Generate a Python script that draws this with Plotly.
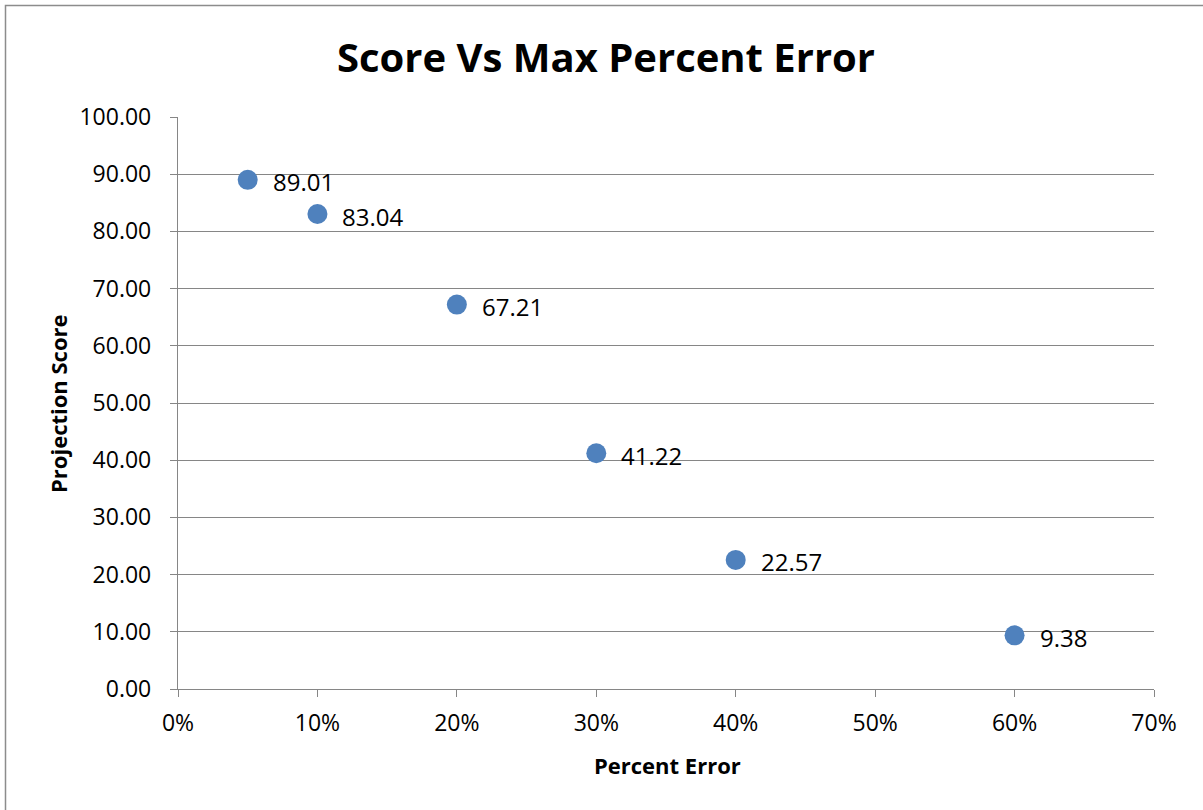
import plotly.graph_objects as go

# Data
percent_error = [0.05, 0.10, 0.20, 0.30, 0.40, 0.60]
projection_score = [89.01, 83.04, 67.21, 41.22, 22.57, 9.38]
point_labels = ["89.01", "83.04", "67.21", "41.22", "22.57", "9.38"]

title_text = "Score Vs Max Percent Error"
x_title = "Percent Error"
y_title = "Projection Score"

FONT = "Open Sans"
GRID = "#868686"

fig = go.Figure()
fig.add_trace(go.Scatter(
    x=percent_error, y=projection_score, mode="markers",
    marker=dict(size=20, color="#4F81BD", line=dict(width=0)),
    hoverinfo="skip", showlegend=False,
))

for xv, yv, lab in zip(percent_error, projection_score, point_labels):
    fig.add_annotation(x=xv, y=yv, xref="x", yref="y", text=lab, showarrow=False,
                       xanchor="left", yanchor="middle", xshift=23, yshift=-2,
                       font=dict(family=FONT, size=24, color="#000000"))

fig.add_annotation(text="<b>" + title_text + "</b>", xref="paper", yref="paper",
                   x=(606 - 178) / 976, y=1 + (117 - 57) / 572, xanchor="center", yanchor="middle",
                   showarrow=False, font=dict(family=FONT, size=40, color="#000000"))
fig.add_annotation(text="<b>" + x_title + "</b>", xref="paper", yref="paper",
                   x=(667 - 178) / 976, y=-(765 - 689) / 572, xanchor="center", yanchor="middle",
                   showarrow=False, font=dict(family=FONT, size=22, color="#000000"))
fig.add_annotation(text="<b>" + y_title + "</b>", xref="paper", yref="paper",
                   x=-(178 - 58) / 976, y=(689 - 404) / 572, xanchor="center", yanchor="middle", textangle=-90,
                   showarrow=False, font=dict(family=FONT, size=22, color="#000000"))

# outer chart border (left and top visible, rest beyond page)
fig.add_shape(type="rect", xref="paper", yref="paper",
              x0=-(178 - 5.5) / 976, x1=1 + 100 / 976,
              y0=-200 / 572, y1=1 + (117 - 5.5) / 572,
              line=dict(color="#8c8c8c", width=1.5), fillcolor="rgba(0,0,0,0)", layer="below")

fig.update_layout(
    width=1203, height=810,
    margin=dict(l=178, r=49, t=117, b=121),
    paper_bgcolor="white", plot_bgcolor="white",
    font=dict(family=FONT, size=23, color="#000000"),
)
fig.update_xaxes(range=[0, 0.7], dtick=0.1, tick0=0, tickformat=".0%",
                 showgrid=False, zeroline=False, showline=True, linecolor=GRID, linewidth=1.3,
                 ticks="outside", ticklen=7, tickcolor=GRID, tickwidth=1.3,
                 tickfont=dict(family=FONT, size=23, color="#000000"), ticklabelstandoff=6)
fig.update_yaxes(range=[0, 100], dtick=10, tick0=0, tickformat=".2f",
                 showgrid=True, gridcolor=GRID, gridwidth=1.3, zeroline=False,
                 showline=True, linecolor=GRID, linewidth=1.3,
                 ticks="outside", ticklen=7, tickcolor=GRID, tickwidth=1.3,
                 tickfont=dict(family=FONT, size=23, color="#000000"), ticklabelstandoff=14)

fig.write_html("out.html", config={"displayModeBar": False},
               post_script="document.body.style.margin='0';")
